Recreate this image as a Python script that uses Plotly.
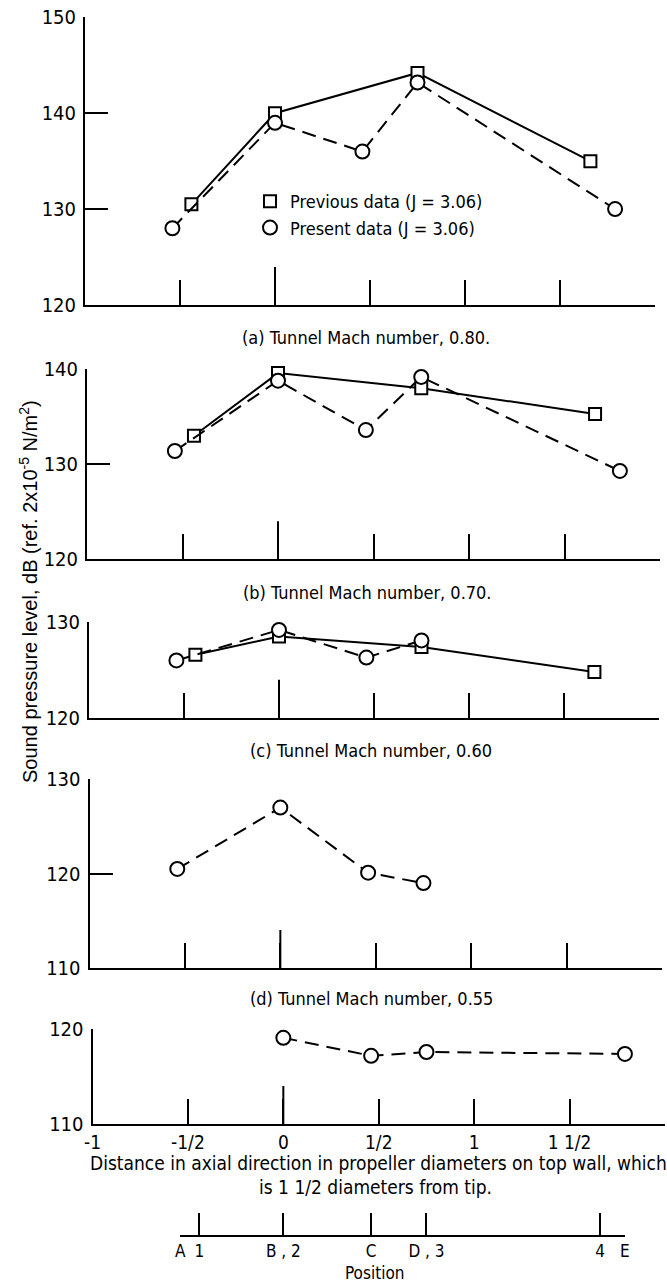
import plotly.graph_objects as go

W, H = 667, 1283
FONT = "Liberation Sans Narrow, Arial Narrow, DejaVu Sans Condensed, sans-serif"

# ---------------- data ----------------
# measuring positions, axial distance in propeller diameters
POS_LABELS = ["A", "1", "B , 2", "C", "D , 3", "4", "E"]
POS_VALUES = [-0.54, -0.44, 0.0, 0.46, 0.75, 1.66, 1.79]

X_TICKVALS = [-1, -0.5, 0, 0.5, 1, 1.5, 2]
X_TICKTEXT = ["-1", "-1/2", "0", "1/2", "1", "1 1/2", "2"]

# (a) Mach 0.80
A_PREV_X = [-0.44, 0.0, 0.75, 1.66]
A_PREV_Y = [130.5, 140.0, 144.2, 135.0]
A_PRES_X = [-0.54, 0.0, 0.46, 0.75, 1.79]
A_PRES_Y = [128.0, 139.0, 136.0, 143.2, 130.0]
# (b) Mach 0.70
B_PREV_X = [-0.44, 0.0, 0.75, 1.66]
B_PREV_Y = [133.0, 139.6, 138.0, 135.3]
B_PRES_X = [-0.54, 0.0, 0.46, 0.75, 1.79]
B_PRES_Y = [131.4, 138.8, 133.6, 139.2, 129.3]
# (c) Mach 0.60
C_PREV_X = [-0.44, 0.0, 0.75, 1.66]
C_PREV_Y = [126.6, 128.5, 127.4, 124.8]
C_PRES_X = [-0.54, 0.0, 0.46, 0.75]
C_PRES_Y = [126.0, 129.2, 126.3, 128.1]
# (d) Mach 0.55
D_PRES_X = [-0.54, 0.0, 0.46, 0.75]
D_PRES_Y = [120.5, 127.0, 120.1, 119.0]
# (e) lowest Mach
E_PRES_X = [0.0, 0.46, 0.75, 1.79]
E_PRES_Y = [119.1, 117.2, 117.6, 117.4]

LEGEND_PREV = "Previous data (J = 3.06)"
LEGEND_PRES = "Present data (J = 3.06)"

# ---------------- layout helpers (pixel geometry) ----------------
def fx(px):
    return px / W

def fy(py):
    return 1 - py / H

panels = [
    dict(xpx=(85, 655), ypx=(17.3, 305), yr=[120, 150], yt=[120, 130, 140, 150],
         prev=(A_PREV_X, A_PREV_Y), pres=(A_PRES_X, A_PRES_Y),
         cap="(a) Tunnel Mach number, 0.80.", cap_xy=(366, 338)),
    dict(xpx=(87, 660), ypx=(369.3, 559.3), yr=[120, 140], yt=[120, 130, 140],
         prev=(B_PREV_X, B_PREV_Y), pres=(B_PRES_X, B_PRES_Y),
         cap="(b) Tunnel Mach number, 0.70.", cap_xy=(367, 593)),
    dict(xpx=(89, 659), ypx=(622.3, 717.7), yr=[120, 130], yt=[120, 130],
         prev=(C_PREV_X, C_PREV_Y), pres=(C_PRES_X, C_PRES_Y),
         cap="(c) Tunnel Mach number, 0.60", cap_xy=(371, 750)),
    dict(xpx=(89.5, 662), ypx=(779.3, 968), yr=[110, 130], yt=[110, 120, 130],
         prev=None, pres=(D_PRES_X, D_PRES_Y),
         cap="(d) Tunnel Mach number, 0.55", cap_xy=(371, 999)),
    dict(xpx=(92.5, 665), ypx=(1029.3, 1124), yr=[110, 120], yt=[110, 120],
         prev=None, pres=(E_PRES_X, E_PRES_Y),
         cap=None, cap_xy=None),
]

fig = go.Figure()
layout = dict(
    width=W, height=H, autosize=False,
    margin=dict(l=0, r=0, t=0, b=0),
    paper_bgcolor="white", plot_bgcolor="white",
    font=dict(family=FONT, color="black", size=18),
    showlegend=True,
    legend=dict(x=fx(250), y=fy(183), xanchor="left", yanchor="top",
                bgcolor="rgba(0,0,0,0)", borderwidth=0,
                font=dict(family=FONT, size=18, color="black"),
                itemwidth=30, tracegroupgap=0),
)
shapes = []
annotations = []

marker_sq = dict(symbol="square", size=12, color="white", line=dict(color="black", width=2))
marker_ci = dict(symbol="circle", size=14, color="white", line=dict(color="black", width=2))

for i, p in enumerate(panels, start=1):
    sfx = "" if i == 1 else str(i)
    xa, ya = "x" + sfx, "y" + sfx
    last = i == len(panels)
    layout["xaxis" + sfx] = dict(
        domain=[fx(p["xpx"][0]), fx(p["xpx"][1])], range=[-1, 2], anchor=ya,
        showline=True, linecolor="black", linewidth=2, mirror=False,
        ticks="inside", ticklen=25, tickwidth=2, tickcolor="black",
        tickvals=X_TICKVALS, ticktext=X_TICKTEXT, showticklabels=last, tickangle=0,
        tickfont=dict(family=FONT, size=19, color="black"),
        showgrid=False, zeroline=False, automargin=False, fixedrange=True,
    )
    layout["yaxis" + sfx] = dict(
        domain=[fy(p["ypx"][1]), fy(p["ypx"][0])], range=p["yr"], anchor=xa,
        showline=True, linecolor="black", linewidth=2,
        ticks="inside", ticklen=23, tickwidth=2, tickcolor="black",
        tickvals=p["yt"], tickfont=dict(family=FONT, size=20, color="black"),
        ticklabelstandoff=3,
        showgrid=False, zeroline=False, automargin=False, fixedrange=True,
    )
    # longer tick at zero distance
    hpx = p["ypx"][1] - p["ypx"][0]
    shapes.append(dict(type="line", xref=xa, yref=ya + " domain", x0=0, x1=0,
                       y0=0, y1=38 / hpx, line=dict(color="black", width=2)))
    if p["prev"] is not None:
        fig.add_trace(go.Scatter(x=p["prev"][0], y=p["prev"][1], xaxis=xa, yaxis=ya,
                                 mode="lines+markers", line=dict(color="black", width=2),
                                 marker=marker_sq, showlegend=False, hoverinfo="skip",
                                 cliponaxis=False))
    fig.add_trace(go.Scatter(x=p["pres"][0], y=p["pres"][1], xaxis=xa, yaxis=ya,
                             mode="lines+markers",
                             line=dict(color="black", width=2, dash="14px,8px"),
                             marker=marker_ci, showlegend=False, hoverinfo="skip",
                             cliponaxis=False))
    if p["cap"]:
        annotations.append(dict(text=p["cap"], xref="paper", yref="paper",
                                x=fx(p["cap_xy"][0]), y=fy(p["cap_xy"][1]),
                                xanchor="center", yanchor="middle", showarrow=False,
                                font=dict(family=FONT, size=18, color="black")))

# legend entries (marker only)
fig.add_trace(go.Scatter(x=[None], y=[None], mode="markers", marker=marker_sq,
                         name=LEGEND_PREV, showlegend=True))
fig.add_trace(go.Scatter(x=[None], y=[None], mode="markers", marker=marker_ci,
                         name=LEGEND_PRES, showlegend=True))

# position scale beneath the chart, aligned with panel (e)
e = panels[-1]
def px_e(v):
    return e["xpx"][0] + (v + 1) * (e["xpx"][1] - e["xpx"][0]) / 3.0

pmin, pmax = min(POS_VALUES), max(POS_VALUES)
layout["xaxis6"] = dict(
    domain=[fx(px_e(pmin)), fx(px_e(pmax))], range=[pmin, pmax], anchor="y6",
    showline=True, linecolor="black", linewidth=2,
    ticks="inside", ticklen=22, tickwidth=2, tickcolor="black",
    tickvals=POS_VALUES, ticktext=POS_LABELS, tickangle=0,
    tickfont=dict(family=FONT, size=17, color="black"),
    ticklabelstandoff=0,
    showgrid=False, zeroline=False, automargin=False, fixedrange=True,
)
layout["yaxis6"] = dict(domain=[fy(1235), fy(1212)], range=[0, 1], anchor="x6",
                        visible=False, fixedrange=True)
fig.add_trace(go.Scatter(x=POS_VALUES, y=[0.5] * len(POS_VALUES), xaxis="x6", yaxis="y6",
                         mode="markers", marker=dict(opacity=0), showlegend=False,
                         hoverinfo="skip"))

# axis titles
annotations += [
    dict(text="Distance in axial direction in propeller diameters on top wall, which",
         xref="paper", yref="paper", x=fx(378), y=fy(1163), xanchor="center",
         yanchor="middle", showarrow=False, font=dict(family=FONT, size=19)),
    dict(text="is 1 1/2 diameters from tip.",
         xref="paper", yref="paper", x=fx(375), y=fy(1187), xanchor="center",
         yanchor="middle", showarrow=False, font=dict(family=FONT, size=19)),
    dict(text="Position", xref="paper", yref="paper", x=fx(374), y=fy(1273),
         xanchor="center", yanchor="middle", showarrow=False,
         font=dict(family=FONT, size=17)),
    dict(text="Sound pressure level, dB (ref. 2x10<sup>-5</sup> N/m<sup>2</sup>)",
         xref="paper", yref="paper", x=fx(28), y=fy(592), xanchor="center",
         yanchor="middle", textangle=-90, showarrow=False,
         font=dict(family="Liberation Sans, Arial, sans-serif", size=20)),
]

layout["shapes"] = shapes
layout["annotations"] = annotations
fig.update_layout(**layout)
fig.write_html("out.html")
